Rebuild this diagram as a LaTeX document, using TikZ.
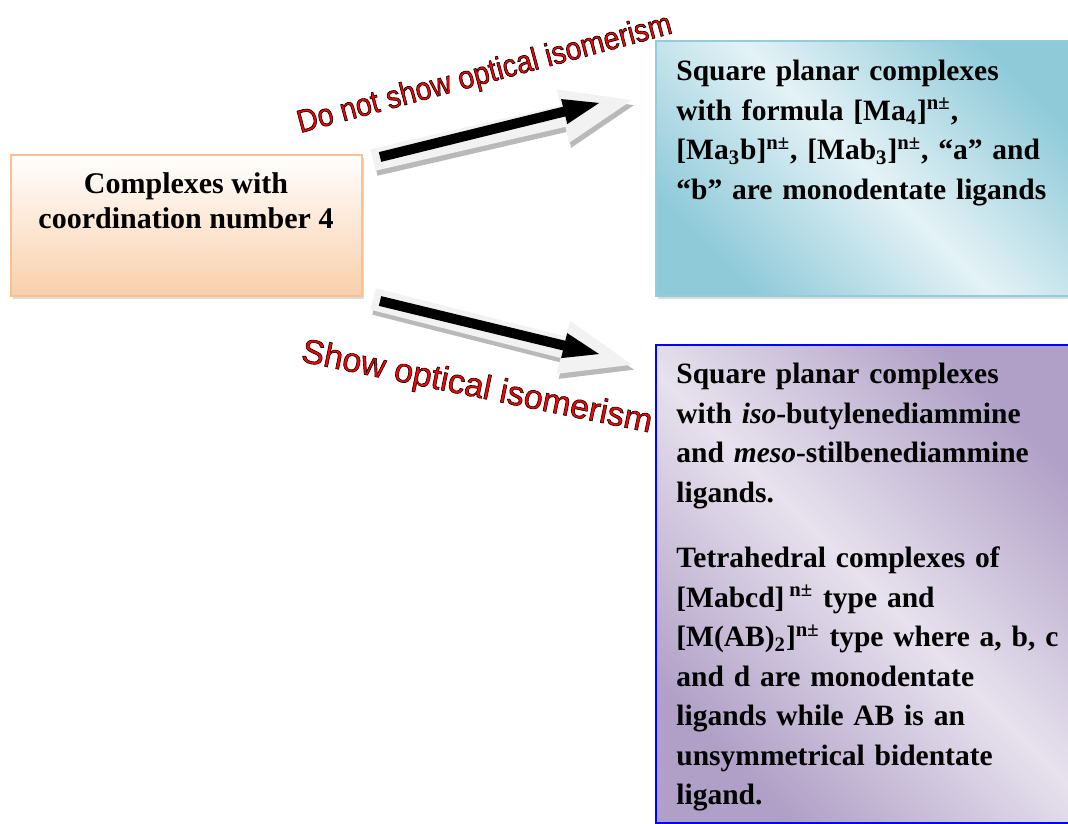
\documentclass[tikz,border=0pt]{standalone}
\usepackage{fontspec}
\setmainfont{Liberation Serif}
\newfontfamily\arialfont{Liberation Sans}
\usetikzlibrary{arrows.meta,calc,shadows}

\definecolor{peachline}{HTML}{FAC08F}
\definecolor{peachfill}{HTML}{F9CFAB}
\definecolor{aqualine}{HTML}{92CDDC}
\definecolor{aquadark}{HTML}{8FCAD9}
\definecolor{aqualight}{HTML}{E4F2F6}
\definecolor{lilacdark}{HTML}{B09FC6}
\definecolor{lilaclight}{HTML}{E7E2EE}
\definecolor{arrowback}{HTML}{F2F2F2}

% red letters with a thin black edge
\newcommand{\outlined}[1]{\special{pdf:literal direct 2 Tr 0 0 0 RG 0.3 w}#1\special{pdf:literal direct 0 Tr}}

\begin{document}
\begin{tikzpicture}[x=0.5pt,y=-0.5pt,
  sheet/.style={anchor=north west,inner sep=0pt,line width=1pt},
  boxtext/.style={anchor=north west,inner sep=0pt,align=left,text width=212pt,
    font=\bfseries\fontsize{14.75}{19.75}\selectfont},
  redlabel/.style={anchor=base,inner sep=0pt,text=red},
  bigarrow/.style={line width=11pt,-{Triangle[length=38pt,width=24pt]}},
  blackarrow/.style={line width=5pt,-{Triangle[length=20pt,width=11pt]}}]

 \useasboundingbox (0,0) rectangle (1068,823);
 \clip (0,0) rectangle (1068,823);

 % ---- coordination number 4
 \node[sheet,draw=peachline,top color=white,bottom color=peachfill,
   drop shadow={shadow xshift=1pt,shadow yshift=-1.5pt,fill=gray!55},
   minimum width=175.5pt,minimum height=70.5pt] (cn) at (10,154) {};
 \node[anchor=north,inner sep=0pt,align=center,font=\bfseries\fontsize{15}{17.5}\selectfont]
   (cntext) at (186,172) {Complexes with\\ coordination number 4};

 % ---- no optical isomerism
 \node[sheet,draw=aqualine,top color=aquadark,bottom color=aquadark,middle color=aqualight,
   shading angle=-45,drop shadow={shadow xshift=1pt,shadow yshift=-1.5pt,fill=gray!55},
   minimum width=212pt,minimum height=127.5pt] (sq) at (655,40) {};
 \node[boxtext] (sqtext) at (676,60) {Square planar complexes\\
   with formula [Ma\textsubscript{4}]\textsuperscript{n±},\\
   {[}Ma\textsubscript{3}b]\textsuperscript{n±}, [Mab\textsubscript{3}]\textsuperscript{n±}, “a” and\\
   “b” are monodentate ligands};

 % ---- optical isomerism
 \node[sheet,draw=blue,top color=lilacdark,bottom color=lilacdark,middle color=lilaclight,
   shading angle=-45,minimum width=212pt,minimum height=239pt] (opt) at (655,344) {};
 \node[boxtext] (opttext) at (676,363) {Square planar complexes\\
   with \textit{iso}-butylenediammine\\
   and \textit{meso}-stilbenediammine\\
   ligands.\\[13pt]
   Tetrahedral complexes of\\
   {[}Mabcd]\,\textsuperscript{n±} type and\\
   {[}M(AB)\textsubscript{2}]\textsuperscript{n±} type where a, b, c\\
   and d are monodentate\\
   ligands while AB is an\\
   unsymmetrical bidentate\\
   ligand.};

 % ---- arrows
 \coordinate (upbg0) at (373,160); \coordinate (upbg1) at (637,99);
 \coordinate (up0) at (380,157);   \coordinate (up1) at (603,102);
 \coordinate (dnbg0) at (373,299); \coordinate (dnbg1) at (637,366);
 \coordinate (dn0) at (380,301);   \coordinate (dn1) at (603,355);
 \draw[bigarrow,gray!55] ($(upbg0)+(2,5)$) -- ($(upbg1)+(2,5)$);
 \draw[bigarrow,arrowback] (upbg0) -- (upbg1);
 \draw[blackarrow] (up0) -- (up1);
 \draw[bigarrow,gray!55] ($(dnbg0)+(2,5)$) -- ($(dnbg1)+(2,5)$);
 \draw[bigarrow,arrowback] (dnbg0) -- (dnbg1);
 \draw[blackarrow] (dn0) -- (dn1);

 % ---- labels
 \node[redlabel,rotate=15,font=\arialfont\fontsize{14.25}{16}\selectfont]
   (nolabel) at (487,83) {\scalebox{1}[1.12]{\outlined{Do not show optical isomerism}}};
 \node[redlabel,rotate=-11.5,font=\arialfont\fontsize{17}{19}\selectfont]
   (yeslabel) at (475,397) {\outlined{Show optical isomerism}};
\end{tikzpicture}
\end{document}
